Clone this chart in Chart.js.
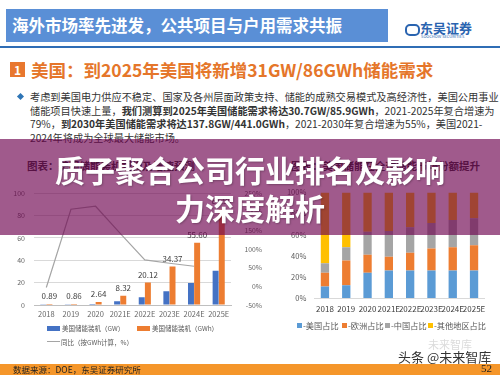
<!DOCTYPE html>
<html><head><meta charset="utf-8">
<script src="https://cdn.jsdelivr.net/npm/chart.js@4/dist/chart.umd.min.js"></script>
<style>
html,body{margin:0;padding:0;background:#fff;}
body{width:500px;height:375px;position:relative;overflow:hidden;font-family:"Noto Sans CJK SC","Noto Sans",sans-serif;}
.abs{position:absolute;white-space:nowrap;}
canvas{position:absolute;}
</style></head><body>

<div class="abs" style="left:6px;top:9px;width:382px;height:33px;background:#5a8fd6;"></div>
<div class="abs" style="left:12px;top:9px;line-height:33px;font-size:16.5px;font-weight:700;color:#fff;">海外市场率先进发，公共项目与户用需求共振</div>

<div class="abs" style="left:405px;top:24px;width:11px;height:8px;border:2px solid #2a64b0;border-radius:5px;"></div>
<div class="abs" style="left:420px;top:21px;line-height:14px;font-size:13px;font-weight:700;color:#2a64b0;">东吴证券</div>
<div class="abs" style="left:421px;top:34px;line-height:5px;font-size:4px;color:#2a64b0;">SOOCHOW SECURITIES</div>

<div class="abs" style="left:0;top:46px;width:500px;height:2px;background:#2f6db5;"></div>

<div class="abs" style="left:10px;top:62px;width:15px;height:15px;background:#e8772e;color:#fff;font-weight:700;font-size:12px;line-height:15px;text-align:center;">1</div>
<div class="abs" style="left:31px;top:58px;line-height:24px;font-size:17.5px;font-weight:700;color:#e5762a;">美国：到2025年美国将新增31GW/86GWh储能需求</div>

<div class="abs" style="left:18px;top:94px;width:5px;height:5px;background:#2e75b6;transform:rotate(45deg);"></div>
<div class="abs" style="left:30px;top:90px;line-height:13.7px;font-size:10.2px;color:#333;">考虑到美国电力供应不稳定、国家及各州层面政策支持、储能的成熟交易模式及高经济性，美国公用事业<br>储能项目快速上量，<b>我们测算到2025年美国储能需求将达30.7GW/85.9GWh</b>，2021-2025年复合增速为<br>79%，<b>到2030年美国储能需求将达137.8GW/441.0GWh</b>，2021-2030年复合增速为55%，美国2021-<br>2024年将成为全球最大储能市场。</div>

<div class="abs" style="left:27px;top:160px;line-height:12px;font-size:10.5px;font-weight:700;color:#333;">图表：美国储能装机规模及增速预测</div>
<div class="abs" style="left:291px;top:160px;line-height:12px;font-size:10.5px;font-weight:700;color:#333;">图表：美国储能在全球储能市场份额提升</div>

<canvas id="left" width="262" height="145" style="left:0;top:180px;width:262px;height:145px;"></canvas>
<canvas id="right" width="238" height="140" style="left:262px;top:180px;width:238px;height:140px;"></canvas>

<div class="abs" style="left:47px;top:326px;width:13px;height:5px;background:#4472c4;"></div>
<div class="abs" style="left:62px;top:323px;line-height:10px;font-size:6.5px;color:#595959;">美国储能装机（GW）</div>
<div class="abs" style="left:137px;top:326px;width:13px;height:5px;background:#ed7d31;"></div>
<div class="abs" style="left:152px;top:323px;line-height:10px;font-size:6.5px;color:#595959;">美国储能装机（GWh）</div>
<div class="abs" style="left:47px;top:341px;width:13px;height:1px;background:#a5a5a5;"></div>
<div class="abs" style="left:61px;top:337px;line-height:10px;font-size:6.5px;color:#595959;">同比（按GWh计算，%）</div>

<div class="abs" style="left:297px;top:323px;width:5px;height:5px;background:#5b9bd5;"></div>
<div class="abs" style="left:303px;top:320px;line-height:10px;font-size:8.2px;color:#595959;">-美国占比</div>
<div class="abs" style="left:342px;top:323px;width:5px;height:5px;background:#ed7d31;"></div>
<div class="abs" style="left:348px;top:320px;line-height:10px;font-size:8.2px;color:#595959;">-欧洲占比</div>
<div class="abs" style="left:385px;top:323px;width:5px;height:5px;background:#a5a5a5;"></div>
<div class="abs" style="left:391px;top:320px;line-height:10px;font-size:8.2px;color:#595959;">-中国占比</div>
<div class="abs" style="left:428px;top:323px;width:5px;height:5px;background:#ffc000;"></div>
<div class="abs" style="left:434px;top:320px;line-height:10px;font-size:8.2px;color:#595959;">-其他地区占比</div>

<div class="abs" style="left:428px;top:338px;line-height:12px;font-size:11px;color:#dcdcdc;">未来智库</div>
<div class="abs" style="left:398px;top:349px;line-height:16px;font-size:13px;color:#333;">头条 @未来智库</div>

<div class="abs" style="left:0;top:364px;width:500px;height:11px;background:#f5962a;"></div>
<div class="abs" style="left:13px;top:364px;line-height:11px;font-size:8.5px;color:#222;">数据来源：DOE，东吴证券研究所</div>
<div class="abs" style="left:481px;top:362px;line-height:13px;font-size:11px;color:#222;font-family:'Liberation Serif',serif;">52</div>

<div class="abs" style="left:0;top:139px;width:500px;height:96px;background:rgba(109,2,78,0.65);"></div>
<div class="abs" style="left:0;top:150px;width:500px;text-align:center;line-height:38px;font-size:30px;font-weight:700;color:#fff;text-shadow:1px 1px 2px rgba(0,0,0,0.25);">质子聚合公司行业排名及影响<br>力深度解析</div>

<script>
const years = ['2018','2019','2020','2021E','2022E','2023E','2024E','2025E'];
const usPowerGW = [0.25,0.25,0.9,3.3,6.9,12.2,19.6,30.7];
const usEnergyGWh = [0.89,0.86,2.64,8.32,20.12,34.37,55.60,85.90];
const yoyPct = [-3,207,215,142,71,62,54,null];

const shareUS = [11,12,24,26,26,26,26,26];
const shareEU = [13,23.5,17,13,17,21,22,24];
const shareCN = [9,12.5,21.7,24.6,24,24,26,25.5];
const shareOther = [67,52,37.3,36.4,33,29,26,24.5];

Chart.defaults.font.family = '"Noto Sans CJK SC","Noto Sans",sans-serif';
Chart.defaults.animation = false;

const barLabels = {
  id:'barLabels',
  afterDatasetsDraw(chart){
    const idx = chart.data.datasets.findIndex(d=>d.label==='美国储能装机（GWh）');
    const meta = chart.getDatasetMeta(idx);
    const ctx = chart.ctx;
    ctx.save();
    ctx.font = '8px "Noto Sans CJK SC"';
    ctx.fillStyle = '#404040';
    ctx.textAlign = 'center';
    ctx.textBaseline = 'bottom';
    meta.data.forEach((el,i)=>{ ctx.fillText(usEnergyGWh[i].toFixed(2), el.x, el.y-4); });
    ctx.restore();
  }
};

new Chart(document.getElementById('left'), {
  type:'bar',
  data:{
    labels: years,
    datasets:[
      {type:'line', label:'同比（按GWh计算，%）', data: yoyPct, yAxisID:'y1', borderColor:'#a5a5a5', borderWidth:1.2, pointRadius:0, fill:false, tension:0, order:0, spanGaps:false},
      {label:'美国储能装机（GW）', data: usPowerGW, backgroundColor:'#4472c4', categoryPercentage:0.5, barPercentage:0.97, order:1},
      {label:'美国储能装机（GWh）', data: usEnergyGWh, backgroundColor:'#ed7d31', categoryPercentage:0.5, barPercentage:0.97, order:1}
    ]
  },
  options:{
    responsive:false, devicePixelRatio:1,
    layout:{padding:{top:8,left:0,right:0,bottom:0}},
    plugins:{legend:{display:false}, tooltip:{enabled:false}},
    scales:{
      x:{ grid:{display:false, drawTicks:false}, border:{display:true,color:'#bfbfbf'},
          ticks:{color:'#666', font:{size:7.5}, padding:5, maxRotation:0, minRotation:0, autoSkip:false},
          afterFit(s){ s.height = 20; } },
      y:{ min:0, max:100, ticks:{stepSize:20, color:'#666', font:{size:7}, padding:9},
          grid:{color:'#d9d9d9', borderDash:[2,2], drawTicks:false}, border:{display:false},
          afterFit(s){ s.width = 34; } },
      y1:{ position:'right', min:-50, max:250, ticks:{stepSize:50, color:'#666', font:{size:6.8}, padding:7, crossAlign:'far', callback:v=>v+'%'},
          grid:{drawOnChartArea:false, drawTicks:false}, border:{display:false},
          afterFit(s){ s.width = 31; } }
    }
  },
  plugins:[barLabels]
});

new Chart(document.getElementById('right'), {
  type:'bar',
  data:{
    labels: years,
    datasets:[
      {label:'-美国占比', data: shareUS, backgroundColor:'#5b9bd5'},
      {label:'-欧洲占比', data: shareEU, backgroundColor:'#ed7d31'},
      {label:'-中国占比', data: shareCN, backgroundColor:'#a5a5a5'},
      {label:'-其他地区占比', data: shareOther, backgroundColor:'#ffc000'}
    ]
  },
  options:{
    responsive:false, devicePixelRatio:1,
    layout:{padding:{top:8,left:0,right:15.3,bottom:0}},
    datasets:{bar:{categoryPercentage:1, barPercentage:0.39}},
    plugins:{legend:{display:false}, tooltip:{enabled:false}},
    scales:{
      x:{ stacked:true, grid:{display:false, drawTicks:false}, border:{display:true,color:'#d9d9d9'},
          ticks:{color:'#404040', font:{size:8}, padding:6, maxRotation:0, minRotation:0, autoSkip:false},
          afterFit(s){ s.height = 22; } },
      y:{ stacked:true, min:0, max:100, ticks:{stepSize:20, color:'#595959', font:{size:7.5}, padding:8, callback:v=>v+'%'},
          grid:{display:false, drawTicks:false}, border:{display:false},
          afterFit(s){ s.width = 52.3; } }
    }
  }
});
</script>
</body></html>
